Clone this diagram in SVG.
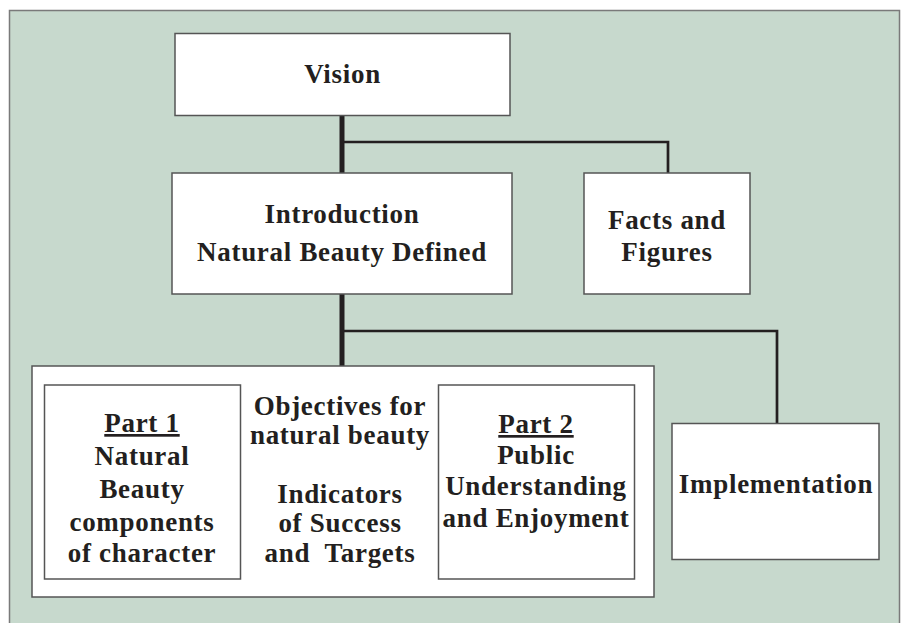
<svg xmlns="http://www.w3.org/2000/svg" width="905" height="623" viewBox="0 0 905 623">
<style>
.box{fill:#ffffff;stroke:#555555;stroke-width:1.5}
.t{font-family:"Liberation Serif","Times New Roman",serif;font-weight:bold;font-size:27px;letter-spacing:0.7px;fill:#231f20;text-anchor:middle}
.u{text-decoration:underline}
.ln{fill:none;stroke:#231f20;stroke-width:2.7;stroke-linejoin:miter}
.thick{fill:none;stroke:#231f20;stroke-width:5}
</style>
<rect x="0" y="0" width="905" height="623" fill="#ffffff"/>
<rect x="9.5" y="10.5" width="890" height="620" fill="#c7d9cd" stroke="#7a7a7a" stroke-width="1.5"/>
<g id="connectors">
<line class="thick" x1="342" y1="115" x2="342" y2="173"/>
<polyline class="ln" points="342,142 668,142 668,173"/>
<line class="thick" x1="342" y1="294" x2="342" y2="366"/>
<polyline class="ln" points="342,331 777,331 777,423"/>
</g>
<g id="vision">
<rect class="box" x="175" y="33.5" width="335" height="82"/>
<text class="t" x="342.5" y="83">Vision</text>
</g>
<g id="introduction">
<rect class="box" x="172" y="173" width="340" height="121"/>
<text class="t" x="342" y="223">Introduction</text>
<text class="t" x="342" y="261">Natural Beauty Defined</text>
</g>
<g id="facts">
<rect class="box" x="584" y="173" width="166" height="121"/>
<text class="t" x="667" y="229">Facts and</text>
<text class="t" x="667" y="261">Figures</text>
</g>
<g id="objectives">
<rect class="box" x="32" y="366" width="622" height="231"/>
<text class="t" x="340" y="415">Objectives for</text>
<text class="t" x="340" y="443.5">natural beauty</text>
<text class="t" x="340" y="503">Indicators</text>
<text class="t" x="340" y="532">of Success</text>
<text class="t" x="340" y="562" xml:space="preserve">and  Targets</text>
</g>
<g id="part1">
<rect class="box" x="44.5" y="385" width="196" height="194"/>
<text class="t" x="142" y="432"><tspan class="u">Part 1</tspan></text>
<text class="t" x="142" y="465">Natural</text>
<text class="t" x="142" y="498">Beauty</text>
<text class="t" x="142" y="531">components</text>
<text class="t" x="142" y="562">of character</text>
</g>
<g id="part2">
<rect class="box" x="438.5" y="385" width="196" height="194"/>
<text class="t" x="536" y="433"><tspan class="u">Part 2</tspan></text>
<text class="t" x="536" y="463.5">Public</text>
<text class="t" x="536" y="495">Understanding</text>
<text class="t" x="536" y="527">and Enjoyment</text>
</g>
<g id="implementation">
<rect class="box" x="672" y="423.5" width="207" height="136"/>
<text class="t" x="776" y="493">Implementation</text>
</g>
</svg>
